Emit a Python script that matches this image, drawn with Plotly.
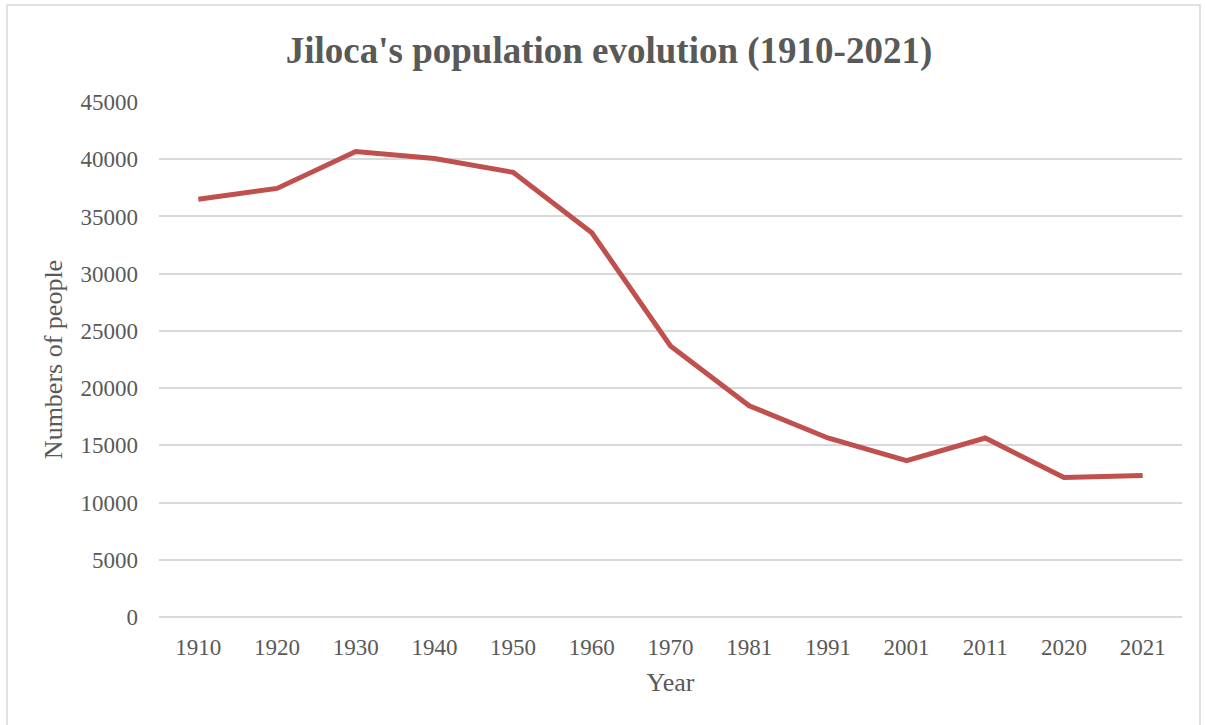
import plotly.graph_objects as go

years = ["1910", "1920", "1930", "1940", "1950", "1960", "1970", "1981", "1991", "2001", "2011", "2020", "2021"]
population = [36500, 37450, 40680, 40070, 38850, 33580, 23680, 18460, 15640, 13660, 15640, 12190, 12360]
y_ticks = [0, 5000, 10000, 15000, 20000, 25000, 30000, 35000, 40000, 45000]

FONT = "Liberation Serif, Times New Roman, serif"
GREY = "#595959"

fig = go.Figure()
fig.add_trace(go.Scatter(
    x=years, y=population, mode="lines",
    line=dict(color="#C0504D", width=5),
    showlegend=False,
))

fig.update_layout(
    width=1205, height=725,
    margin=dict(l=159, r=23, t=102, b=108),
    paper_bgcolor="white", plot_bgcolor="white",
    font=dict(family=FONT, color=GREY, size=23),
    title=dict(text="<b>Jiloca's population evolution (1910-2021)</b>",
               x=609/1205, xanchor="center", xref="container",
               y=1 - 50/725, yanchor="middle", yref="container",
               font=dict(family=FONT, size=37, color=GREY)),
    xaxis=dict(type="category", range=[-0.5, len(years) - 0.5],
               showgrid=False, showline=False, zeroline=False,
               ticks="", ticklabelstandoff=14,
               tickfont=dict(size=23, color=GREY),
               title=dict(text="Year", font=dict(size=26, color=GREY), standoff=13)),
    yaxis=dict(range=[0, 45000], tickvals=y_ticks, tickformat="d",
               showgrid=True, gridcolor="#D9D9D9", gridwidth=1.5,
               zeroline=True, zerolinecolor="#D9D9D9", zerolinewidth=1.5,
               showline=False, ticks="", ticklabelstandoff=20,
               tickfont=dict(size=23, color=GREY),
               title=dict(text="Numbers of people", font=dict(size=26, color=GREY), standoff=10)),
    shapes=[dict(type="rect", xref="paper", yref="paper",
                 x0=-152/1023, x1=1041/1023, y0=-115/515, y1=(617-5)/515,
                 line=dict(color="#D9D9D9", width=1.5), fillcolor="rgba(0,0,0,0)",
                 layer="below")],
)

fig.write_html("out.html")
